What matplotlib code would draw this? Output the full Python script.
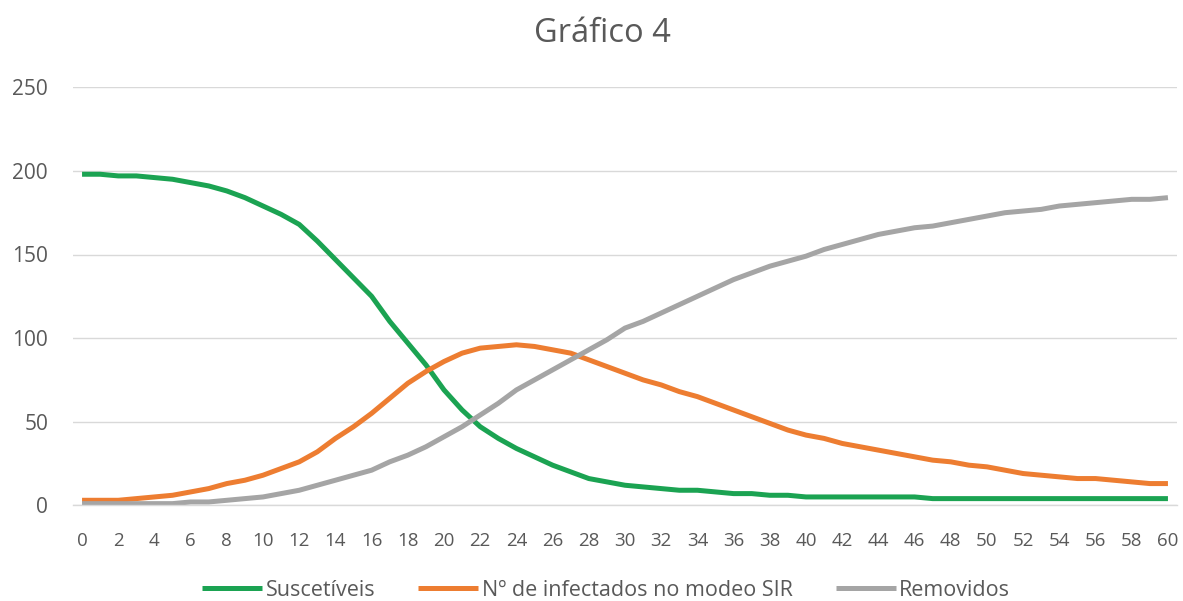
import matplotlib
matplotlib.use("Agg")
import matplotlib.pyplot as plt

# SIR model series, one value per day (0..60)
days = list(range(61))

suscetiveis = [198, 198, 197, 197, 196, 195, 193, 191, 188, 184,
               179, 174, 168, 158, 147, 136, 125, 110, 97, 84,
               69, 57, 47, 40, 34, 29, 24, 20, 16, 14,
               12, 11, 10, 9, 9, 8, 7, 7, 6, 6,
               5, 5, 5, 5, 5, 5, 5, 4, 4, 4,
               4, 4, 4, 4, 4, 4, 4, 4, 4, 4, 4]

infectados = [3, 3, 3, 4, 5, 6, 8, 10, 13, 15,
              18, 22, 26, 32, 40, 47, 55, 64, 73, 80,
              86, 91, 94, 95, 96, 95, 93, 91, 87, 83,
              79, 75, 72, 68, 65, 61, 57, 53, 49, 45,
              42, 40, 37, 35, 33, 31, 29, 27, 26, 24,
              23, 21, 19, 18, 17, 16, 16, 15, 14, 13, 13]

removidos = [1, 1, 1, 1, 1, 1, 2, 2, 3, 4,
             5, 7, 9, 12, 15, 18, 21, 26, 30, 35,
             41, 47, 54, 61, 69, 75, 81, 87, 93, 99,
             106, 110, 115, 120, 125, 130, 135, 139, 143, 146,
             149, 153, 156, 159, 162, 164, 166, 167, 169, 171,
             173, 175, 176, 177, 179, 180, 181, 182, 183, 183, 184]

series_labels = ["Suscetíveis", "Nº de infectados no modeo SIR", "Removidos"]
series_colors = ["#1BA352", "#ED7D31", "#A5A5A5"]
x_tick_labels = [str(d) for d in range(0, 61, 2)]
y_ticks = [0, 50, 100, 150, 200, 250]

plt.rcParams["font.family"] = ["Open Sans", "DejaVu Sans"]
text_color = "#595959"

fig = plt.figure(figsize=(11.83, 6.01), dpi=100)
ax = fig.add_axes([73 / 1183, (601 - 505.3) / 601, 1104 / 1183, 418 / 601])

for values, label, color in zip([suscetiveis, infectados, removidos],
                                series_labels, series_colors):
    ax.plot(days, values, color=color, linewidth=3.6, label=label,
            solid_capstyle="butt", solid_joinstyle="round")

ax.set_xlim(-0.5, 60.5)
ax.set_ylim(0, 250)
ax.set_yticks(y_ticks)
ax.set_xticks(list(range(0, 61, 2)))
ax.set_xticklabels(x_tick_labels)

ax.grid(axis="y", color="#D9D9D9", linewidth=1.0)
ax.set_axisbelow(True)
for side in ["top", "right", "left"]:
    ax.spines[side].set_visible(False)
ax.spines["bottom"].set_color("#D9D9D9")
ax.spines["bottom"].set_linewidth(1.0)

ax.tick_params(axis="both", length=0, colors=text_color)
ax.tick_params(axis="y", labelsize=15, pad=18)
ax.tick_params(axis="x", labelsize=13.5, pad=19)

fig.text(602 / 1183, 1 - 33 / 601, "Gráfico 4", ha="center", va="center",
         fontsize=23.5, color=text_color)

leg = fig.legend(loc="center", bbox_to_anchor=(606 / 1183, 1 - 590 / 601),
                 ncol=3, frameon=False, fontsize=15.5, handlelength=2.8,
                 handletextpad=0.15, columnspacing=2.0)
for t in leg.get_texts():
    t.set_color(text_color)

fig.savefig("out.png", dpi=100)
